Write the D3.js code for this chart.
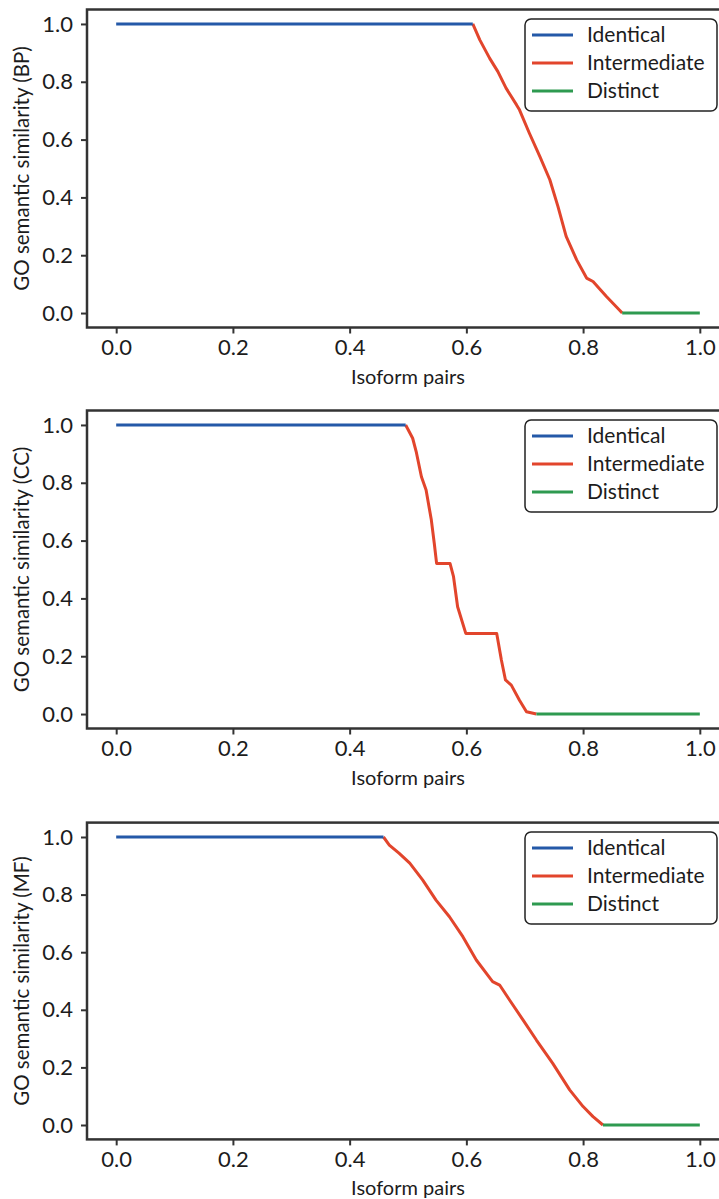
<!DOCTYPE html>
<html>
<head>
<meta charset="utf-8">
<script src="https://cdn.jsdelivr.net/npm/d3@7"></script>
<style>
  body { margin: 0; background: #fff; }
  text { font-family: Lato, 'Open Sans', sans-serif; fill: #1c1c1c; }
</style>
</head>
<body>
<div id="chart"></div>
<script>
const width = 719
const height = 1199

const xTicks = [0, 0.2, 0.4, 0.6, 0.8, 1.0]
const yTicks = [0, 0.2, 0.4, 0.6, 0.8, 1.0]
const categories = ['Identical', 'Intermediate', 'Distinct']
const categoryColors = ['#2459a8', '#e2452c', '#2e9a50']
const ontologies = ['BP', 'CC', 'MF']

// BP
const bpIdentical = [[0, 1], [0.611, 1]]
const bpIntermediate = [
  [0.611, 1], [0.623, 0.945], [0.64, 0.881], [0.654, 0.835], [0.668, 0.778],
  [0.686, 0.72], [0.691, 0.703], [0.708, 0.622], [0.726, 0.541], [0.743, 0.461],
  [0.757, 0.368], [0.771, 0.265], [0.789, 0.184], [0.806, 0.121], [0.817, 0.109],
  [0.84, 0.057], [0.863, 0.009], [0.867, 0]
]
const bpDistinct = [[0.867, 0], [1, 0]]

// CC
const ccIdentical = [[0, 1], [0.496, 1]]
const ccIntermediate = [
  [0.496, 1], [0.508, 0.954], [0.514, 0.908], [0.523, 0.821], [0.531, 0.775],
  [0.54, 0.671], [0.545, 0.591], [0.549, 0.521], [0.572, 0.521], [0.578, 0.475],
  [0.585, 0.371], [0.599, 0.279], [0.652, 0.279], [0.66, 0.187], [0.667, 0.118],
  [0.677, 0.1], [0.691, 0.048], [0.703, 0.008], [0.72, 0]
]
const ccDistinct = [[0.72, 0], [1, 0]]

// MF
const mfIdentical = [[0, 1], [0.458, 1]]
const mfIntermediate = [
  [0.458, 1], [0.468, 0.972], [0.485, 0.943], [0.503, 0.909], [0.525, 0.851],
  [0.548, 0.781], [0.571, 0.723], [0.594, 0.654], [0.617, 0.573], [0.645, 0.498],
  [0.657, 0.486], [0.674, 0.434], [0.697, 0.365], [0.72, 0.295], [0.748, 0.214],
  [0.777, 0.122], [0.8, 0.064], [0.817, 0.029], [0.834, 0]
]
const mfDistinct = [[0.834, 0], [1, 0]]

const panelSeries = [
  [bpIdentical, bpIntermediate, bpDistinct],
  [ccIdentical, ccIntermediate, ccDistinct],
  [mfIdentical, mfIntermediate, mfDistinct]
]

// vertical placement of each panel (top / bottom of the axes box)
const panelTops = [9.5, 410.5, 822.6]
const panelBottoms = [327.5, 728.5, 1139.4]

const svg = d3
  .select('#chart')
  .append('svg')
  .attr('width', width)
  .attr('height', height)

svg.append('rect').attr('width', width).attr('height', height).attr('fill', '#fff')

const x = d3.scaleLinear().domain([-0.05, 1.05]).range([87, 729])

ontologies.forEach(function (ont, p) {
  const y = d3
    .scaleLinear()
    .domain([-0.05, 1.05])
    .range([panelBottoms[p], panelTops[p]])

  const g = svg.append('g')

  const line = d3
    .line()
    .x(function (d) { return x(d[0]) })
    .y(function (d) { return y(d[1]) })

  // draw intermediate first so the flat parts sit on top
  ;[1, 0, 2].forEach(function (i) {
    g.append('path')
      .datum(panelSeries[p][i])
      .attr('d', line)
      .attr('fill', 'none')
      .attr('stroke', categoryColors[i])
      .attr('stroke-width', 3)
      .attr('stroke-linejoin', 'round')
  })

  // frame
  g.append('rect')
    .attr('x', x.range()[0])
    .attr('y', panelTops[p])
    .attr('width', x.range()[1] - x.range()[0])
    .attr('height', panelBottoms[p] - panelTops[p])
    .attr('fill', 'none')
    .attr('stroke', '#333')
    .attr('stroke-width', 2.5)

  const xAxis = g
    .append('g')
    .attr('transform', 'translate(0,' + panelBottoms[p] + ')')
    .call(
      d3.axisBottom(x)
        .tickValues(xTicks)
        .tickFormat(d3.format('.1f'))
        .tickSize(6)
        .tickPadding(6)
    )
  xAxis.select('.domain').remove()
  xAxis.selectAll('line').attr('stroke', '#333').attr('stroke-width', 2)
  xAxis.selectAll('text').style('font-size', '22px').attr('fill', '#1c1c1c')

  const yAxis = g
    .append('g')
    .attr('transform', 'translate(' + x.range()[0] + ',0)')
    .call(
      d3.axisLeft(y)
        .tickValues(yTicks)
        .tickFormat(d3.format('.1f'))
        .tickSize(6)
        .tickPadding(8)
    )
  yAxis.select('.domain').remove()
  yAxis.selectAll('line').attr('stroke', '#333').attr('stroke-width', 2)
  yAxis.selectAll('text').style('font-size', '22px').attr('fill', '#1c1c1c')

  // axis titles
  g.append('text')
    .attr('x', (x.range()[0] + x.range()[1]) / 2)
    .attr('y', panelBottoms[p] + 51)
    .attr('text-anchor', 'middle')
    .attr('dominant-baseline', 'middle')
    .style('font-size', '20px')
    .text('Isoform pairs')

  g.append('text')
    .attr('transform', 'translate(24,' + y(0.5) + ') rotate(-90)')
    .attr('text-anchor', 'middle')
    .attr('dominant-baseline', 'middle')
    .style('font-size', '20.5px')
    .text('GO semantic similarity (' + ont + ')')

  // legend
  const top = y(1)
  const legend = g.append('g')
  legend.append('rect')
    .attr('x', 525)
    .attr('y', top - 5)
    .attr('width', 192)
    .attr('height', 92)
    .attr('rx', 6)
    .attr('fill', '#fff')
    .attr('stroke', '#222')
    .attr('stroke-width', 1.5)

  categories.forEach(function (c, i) {
    const ly = top + 11 + i * 28
    legend.append('line')
      .attr('x1', 532)
      .attr('x2', 573)
      .attr('y1', ly)
      .attr('y2', ly)
      .attr('stroke', categoryColors[i])
      .attr('stroke-width', 3)
    legend.append('text')
      .attr('x', 587)
      .attr('y', ly + 2)
      .attr('dominant-baseline', 'middle')
      .style('font-size', '21px')
      .text(c)
  })
})
</script>
</body>
</html>
